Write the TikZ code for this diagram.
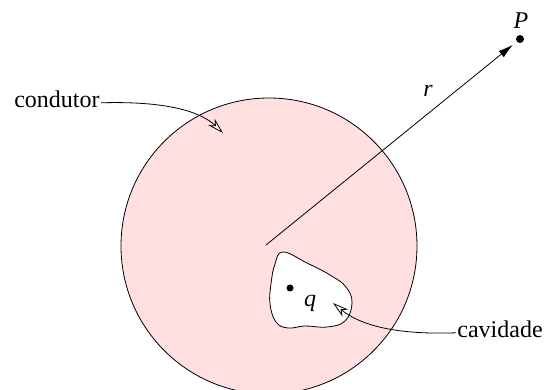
\documentclass[tikz,border=0pt]{standalone}
\usepackage{fontspec}
\setmainfont{Liberation Serif}
\usetikzlibrary{arrows.meta}
\definecolor{condpink}{HTML}{FFDFDF}

\begin{document}
\begin{tikzpicture}[x=1pt, y=1pt, line width=0.8pt,
  lbl/.style={inner sep=1pt, font=\fontsize{24}{28}\selectfont},
  mathlbl/.style={inner sep=1pt, font=\fontsize{24}{28}\selectfont\itshape},
  pointer/.style={-{Stealth[length=16pt, width=9pt, inset=5pt, fill=white]}}]
\useasboundingbox (0,0) rectangle (558,389);
% conductor and cavity
\draw[fill=condpink] (269,143) circle (148);
\draw[fill=white] plot[smooth cycle, tension=0.7] coordinates {(283,137) (307,126) (330,114) (346,102) (352,86) (345,68) (327,62) (305,63) (288,61) (276,67) (270,85) (271,105) (275,125)};
\fill (290,101) circle (3.5);
\node[mathlbl] (q) at (310,86) {q};
% field point
\coordinate (o) at (266,144);
\fill (520,350) circle (4) coordinate (p);
\node[mathlbl] (plabel) at (521,368) {P};
\draw[-{Latex[length=15pt, width=8pt]}, shorten >=9pt] (o) -- (p);
\node[mathlbl] (r) at (428,298) {r};
% labels
\node[lbl, anchor=base east] (cond) at (101,281) {condutor};
\coordinate (condtip) at (223,256);
\draw[pointer] ([yshift=-3pt]cond.east) .. controls (165,288) and (200,278) .. (condtip);
\node[lbl, anchor=base west] (cav) at (456,52) {cavidade};
\coordinate (cavtip) at (333,86);
\draw[pointer] ([yshift=-4pt]cav.west) .. controls (395,54) and (360,64) .. (cavtip);
\end{tikzpicture}
\end{document}
